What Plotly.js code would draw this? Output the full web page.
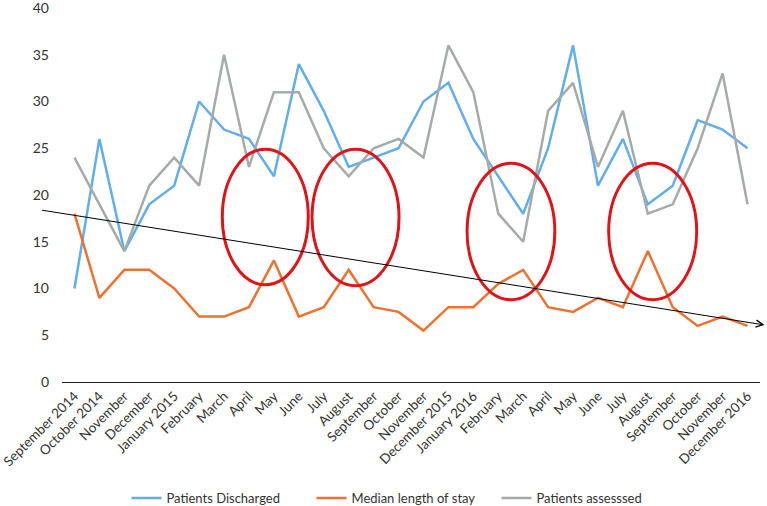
<!DOCTYPE html>
<html>
<head>
<meta charset="utf-8">
<script src="https://cdn.plot.ly/plotly-3.0.1.min.js"></script>
<style>html,body{margin:0;padding:0;background:#fff;}#chart{width:767px;height:506px;}</style>
</head>
<body>
<div id="chart"></div>
<script>
const months = ["September 2014","October 2014","November","December","January 2015","February","March","April","May","June","July","August","September","October","November","December 2015","January 2016","February","March","April","May","June","July","August","September","October","November","December 2016"];
const discharged = [10,26,14,19,21,30,27,26,22,34,29,23,24,25,30,32,26,22,18,25,36,21,26,19,21,28,27,25];
const medianStay = [18,9,12,12,10,7,7,8,13,7,8,12,8,7.5,5.5,8,8,10.5,12,8,7.5,9,8,14,8,6,7,6];
const assessed = [24,19,14,21,24,21,35,23,31,31,25,22,25,26,24,36,31,18,15,29,32,23,29,18,19,25,33,19];

// highlighted periods (ellipses) in category/value units
const highlights = [
  {x0:5.93, x1:9.38, y0:10.4, y1:24.9},
  {x0:9.53, x1:13.02, y0:10.3, y1:24.9},
  {x0:15.75, x1:19.27, y0:8.8, y1:23.4},
  {x0:21.43, x1:24.96, y0:8.8, y1:23.4}
];
// downward trend arrow endpoints (category/value units)
const trendStart = {x:-1.36, y:18.4};
const trendEnd = {x:27.68, y:6.1};

const W = 767, H = 506;
const M = {l: 62, r: 7, t: 8, b: 124, autoexpand: false};
const plotW = W - M.l - M.r, plotH = H - M.t - M.b;
const xRange = [-0.5, 27.5], yRange = [0, 40];
const pxPerCat = plotW / (xRange[1] - xRange[0]);
const pxPerVal = plotH / (yRange[1] - yRange[0]);

const idx = months.map((_, i) => i);
const font = "Lato, 'Open Sans', sans-serif";

const traces = [
  {x: idx, y: discharged, name: "Patients Discharged", type: "scatter", mode: "lines", line: {color: "#62ADEB", width: 2.5}},
  {x: idx, y: medianStay, name: "Median length of stay", type: "scatter", mode: "lines", line: {color: "#EC7232", width: 2.5}},
  {x: idx, y: assessed, name: "Patients assesssed", type: "scatter", mode: "lines", line: {color: "#A6ABAA", width: 2.5}}
];

const shapes = highlights.map(h => ({
  type: "circle", xref: "x", yref: "y", x0: h.x0, x1: h.x1, y0: h.y0, y1: h.y1,
  line: {color: "rgb(222,20,25)", width: 3}, layer: "above"
}));

const layout = {
  width: W, height: H,
  margin: M,
  paper_bgcolor: "#fff", plot_bgcolor: "#fff",
  font: {family: font, size: 13.5, color: "#333"},
  showlegend: true,
  legend: {orientation: "h", x: 0.49, xanchor: "center", y: -0.31, yanchor: "middle",
    font: {size: 13, color: "#333"}, itemwidth: 30, entrywidth: 140, entrywidthmode: "pixels"},
  xaxis: {
    range: xRange, tickmode: "array", tickvals: idx, ticktext: months, automargin: false,
    ticklabeloverflow: "allow",
    tickangle: -45, showgrid: false, zeroline: false, showline: true, linecolor: "#222", linewidth: 1,
    ticks: "", tickfont: {size: 13.5, color: "#333"}, fixedrange: true
  },
  yaxis: {
    range: yRange, dtick: 5, automargin: false, ticklabeloverflow: "allow",
    showgrid: false, zeroline: false, showline: false,
    ticks: "", ticklabelstandoff: 12, tickfont: {size: 14, color: "#333"}, fixedrange: true
  },
  shapes: shapes,
  annotations: [{
    xref: "paper", yref: "paper",
    x: (trendEnd.x - xRange[0]) / (xRange[1] - xRange[0]),
    y: (trendEnd.y - yRange[0]) / (yRange[1] - yRange[0]),
    ax: (trendStart.x - trendEnd.x) * pxPerCat,
    ay: -(trendStart.y - trendEnd.y) * pxPerVal,
    text: "", showarrow: true, arrowhead: 5, arrowsize: 1.4, arrowwidth: 1, arrowcolor: "#000"
  }]
};

Plotly.newPlot("chart", traces, layout, {displayModeBar: false, staticPlot: true});
</script>
</body>
</html>
